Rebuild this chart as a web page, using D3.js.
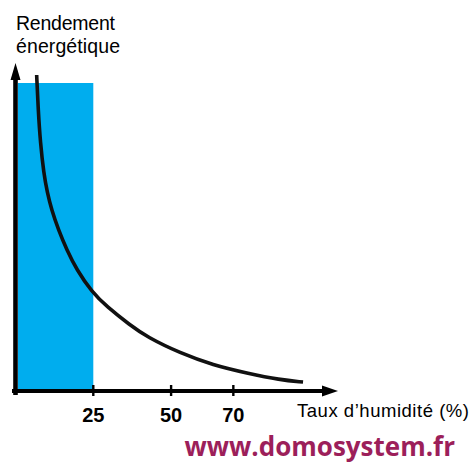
<!DOCTYPE html>
<html>
<head>
<meta charset="utf-8">
<script src="https://cdn.jsdelivr.net/npm/d3@7"></script>
<style>
  body { margin: 0; background: #fff; }
  svg { display: block; }
</style>
</head>
<body>
<div id="chart"></div>
<script>
// humidity (%) vs energy yield (arbitrary units, 0..100)
const humidity = [6.8, 7.3, 8.0, 9.1, 10.2, 11.6, 13.8, 16.5, 19.7, 24.5, 29.3, 36.8, 42.3, 52.9, 63.5, 74.4, 85.0, 92.4]
const rendement = [102.6, 91.2, 80.5, 70.5, 64.5, 58.8, 52.3, 45.8, 39.3, 32.2, 27.4, 21.4, 17.5, 12.3, 8.4, 5.8, 3.6, 2.9]
const tickValues = [25, 50, 70]
const zoneMax = 25   // shaded zone 0..25 %
const zoneTop = 100

const width = 472, height = 463

const x = d3.scaleLinear().domain([0, 100]).range([15.5, 326.7])
const y = d3.scaleLinear().domain([0, 100]).range([391, 83])

const svg = d3.select('#chart').append('svg')
  .attr('width', width)
  .attr('height', height)

// blue zone
svg.append('rect')
  .attr('x', x(0) + 2.5)
  .attr('y', y(zoneTop))
  .attr('width', x(zoneMax) - x(0) - 2.5)
  .attr('height', y(0) - y(zoneTop))
  .attr('fill', '#00adee')

// curve
const line = d3.line()
  .x((d, i) => x(humidity[i]))
  .y(d => y(d))
  .curve(d3.curveBasis)

svg.append('path')
  .datum(rendement)
  .attr('d', line)
  .attr('fill', 'none')
  .attr('stroke', '#111')
  .attr('stroke-width', 3.6)

// axes
const axis = svg.append('g').attr('fill', '#000').attr('stroke', '#000')

axis.append('line')
  .attr('x1', 12).attr('x2', 326)
  .attr('y1', y(0)).attr('y2', y(0))
  .attr('stroke-width', 4.2)
axis.append('path')
  .attr('d', `M${338},${y(0)} L${322},${y(0) - 5.5} L${322},${y(0) + 5.5}Z`)
  .attr('stroke', 'none')

axis.append('line')
  .attr('x1', x(0)).attr('x2', x(0))
  .attr('y1', 395).attr('y2', 78)
  .attr('stroke-width', 4.6)
axis.append('path')
  .attr('d', `M${x(0)},${63} L${x(0) - 5},${80} L${x(0) + 5},${80}Z`)
  .attr('stroke', 'none')

axis.selectAll('.tick')
  .data(tickValues)
  .join('line')
  .attr('class', 'tick')
  .attr('x1', d => x(d)).attr('x2', d => x(d))
  .attr('y1', y(0) - 6).attr('y2', y(0) + 5)
  .attr('stroke-width', 2.4)

svg.selectAll('.tlabel')
  .data(tickValues)
  .join('text')
  .attr('class', 'tlabel')
  .attr('x', d => x(d))
  .attr('y', 422)
  .attr('text-anchor', 'middle')
  .style('font-family', 'Liberation Sans, Arial, sans-serif')
  .style('font-weight', 'bold')
  .style('font-size', '20px')
  .text(d => d)

const labelFont = 'Liberation Sans, Arial, sans-serif'

svg.append('text')
  .attr('x', 16).attr('y', 30)
  .attr('textLength', 99)
  .style('font-family', labelFont)
  .style('font-size', '19.5px')
  .text('Rendement')

svg.append('text')
  .attr('x', 16).attr('y', 53)
  .attr('textLength', 104)
  .style('font-family', labelFont)
  .style('font-size', '19.5px')
  .text('énergétique')

svg.append('text')
  .attr('x', 297).attr('y', 417)
  .attr('textLength', 172)
  .style('font-family', labelFont)
  .style('font-size', '18.5px')
  .text('Taux d’humidité (%)')

svg.append('text')
  .attr('x', 455).attr('y', 456)
  .attr('text-anchor', 'end')
  .style('font-family', 'Open Sans, sans-serif')
  .style('font-weight', 'bold')
  .style('font-size', '26px')
  .attr('fill', '#9c1f5a')
  .text('www.domosystem.fr')
</script>
</body>
</html>
